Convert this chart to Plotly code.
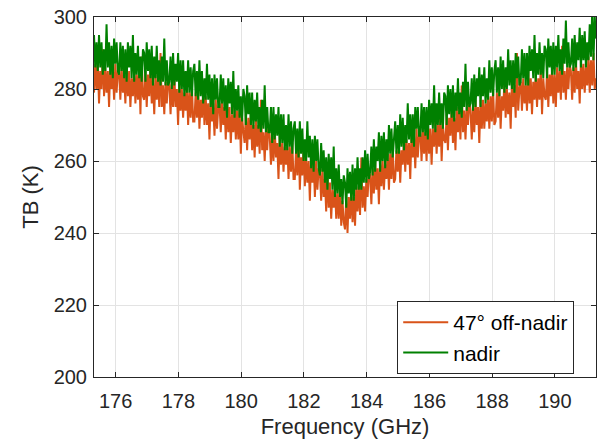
import numpy as np
import plotly.graph_objects as go

# Frequency axis (GHz): 401 channels across the plotted band
f_start, f_end, n_pts = 175.31, 191.31, 401
freq = np.linspace(f_start, f_end, n_pts)

# Brightness temperature (K), nadir (green)
tb_nadir = [
    295, 286, 293, 285, 295, 286, 293, 284, 291, 285, 298, 286, 293, 284, 292, 283, 294, 287, 293, 285,
    284, 293, 285, 292, 283, 291, 282, 293, 286, 292, 283, 295, 282, 290, 284, 292, 283, 289, 282, 291,
    290, 282, 293, 285, 291, 283, 292, 281, 289, 283, 292, 282, 288, 281, 289, 282, 294, 281, 288, 281,
    282, 289, 280, 290, 281, 287, 282, 290, 279, 288, 280, 288, 278, 285, 279, 288, 279, 286, 278, 285,
    287, 278, 285, 277, 288, 278, 285, 276, 283, 277, 287, 277, 284, 275, 283, 273, 284, 277, 283, 275,
    275, 284, 276, 283, 274, 281, 272, 283, 276, 282, 273, 285, 272, 280, 274, 281, 272, 278, 271, 280,
    278, 270, 281, 273, 279, 270, 279, 269, 277, 271, 279, 269, 275, 268, 277, 269, 281, 268, 275, 268,
    268, 275, 265, 275, 266, 273, 267, 275, 264, 273, 265, 273, 263, 270, 263, 273, 264, 271, 262, 269,
    271, 262, 269, 261, 271, 262, 269, 260, 266, 260, 271, 261, 267, 258, 266, 257, 267, 260, 266, 258,
    256, 265, 257, 263, 254, 261, 252, 262, 255, 261, 252, 264, 250, 258, 251, 259, 250, 255, 248, 256,
    254, 247, 258, 251, 257, 249, 259, 249, 258, 252, 261, 252, 258, 252, 261, 254, 263, 254, 262, 255,
    257, 264, 256, 266, 257, 264, 260, 268, 257, 267, 260, 268, 258, 266, 260, 270, 262, 269, 261, 268,
    271, 262, 270, 262, 273, 264, 272, 263, 270, 265, 276, 266, 273, 265, 273, 264, 275, 269, 275, 267,
    267, 276, 268, 275, 267, 275, 266, 277, 270, 276, 269, 281, 268, 276, 270, 279, 270, 276, 269, 279,
    278, 270, 281, 273, 280, 272, 281, 271, 279, 274, 283, 273, 279, 272, 282, 275, 287, 274, 282, 275,
    276, 283, 274, 284, 275, 283, 278, 286, 275, 284, 278, 286, 276, 283, 277, 288, 279, 286, 278, 285,
    288, 279, 286, 278, 289, 280, 288, 279, 286, 280, 291, 281, 288, 280, 288, 279, 290, 283, 289, 281,
    282, 291, 283, 290, 281, 290, 281, 292, 285, 291, 283, 295, 282, 290, 284, 293, 284, 290, 283, 292,
    291, 283, 294, 286, 292, 284, 293, 284, 292, 286, 295, 285, 291, 284, 294, 287, 299, 286, 293, 286,
    287, 294, 285, 295, 286, 293, 288, 297, 286, 295, 288, 296, 286, 293, 288, 298, 289, 302, 288, 300,
    294,
]

# Brightness temperature (K), 47 deg off-nadir (orange)
tb_off = [
    279, 287, 280, 288, 276, 285, 280, 291, 278, 286, 279, 285, 275, 287, 280, 286, 277, 287, 279, 285,
    285, 277, 286, 279, 284, 276, 287, 278, 285, 275, 283, 278, 285, 276, 284, 277, 286, 273, 289, 278,
    277, 285, 275, 284, 278, 286, 276, 282, 273, 284, 277, 283, 275, 290, 275, 281, 273, 282, 276, 283,
    281, 273, 282, 275, 284, 275, 280, 270, 282, 274, 280, 272, 279, 274, 281, 270, 279, 272, 281, 271,
    271, 279, 272, 280, 269, 277, 272, 280, 270, 278, 270, 276, 266, 278, 271, 276, 267, 277, 269, 275,
    276, 268, 277, 270, 275, 266, 277, 268, 275, 265, 273, 268, 275, 266, 274, 266, 275, 262, 272, 267,
    265, 273, 263, 272, 266, 273, 263, 270, 261, 272, 264, 270, 262, 277, 263, 268, 260, 269, 263, 270,
    267, 259, 267, 260, 269, 261, 265, 255, 267, 259, 265, 257, 264, 259, 265, 255, 264, 257, 265, 255,
    255, 263, 256, 268, 252, 261, 256, 264, 253, 261, 254, 260, 249, 261, 254, 260, 250, 260, 252, 258,
    257, 249, 258, 250, 255, 246, 257, 247, 254, 244, 252, 247, 253, 244, 251, 244, 253, 242, 249, 243,
    241, 250, 240, 250, 244, 252, 243, 250, 242, 253, 246, 253, 245, 261, 247, 253, 246, 255, 250, 257,
    256, 248, 258, 251, 260, 252, 258, 248, 260, 253, 260, 252, 259, 255, 262, 252, 262, 255, 264, 254,
    255, 263, 257, 265, 254, 263, 259, 267, 257, 266, 259, 265, 255, 268, 261, 267, 258, 269, 261, 267,
    268, 260, 269, 262, 268, 260, 271, 262, 269, 259, 269, 264, 271, 262, 270, 264, 273, 260, 270, 266,
    265, 273, 263, 272, 267, 275, 265, 272, 263, 275, 268, 274, 266, 281, 268, 274, 266, 275, 270, 277,
    274, 266, 275, 268, 277, 270, 275, 265, 277, 269, 277, 269, 276, 271, 278, 269, 278, 271, 280, 270,
    271, 279, 272, 280, 269, 278, 274, 282, 272, 280, 273, 279, 269, 282, 275, 281, 272, 290, 274, 280,
    282, 274, 283, 276, 281, 274, 285, 276, 283, 273, 282, 277, 284, 275, 283, 277, 286, 273, 283, 278,
    277, 285, 275, 284, 278, 286, 276, 284, 275, 286, 279, 285, 277, 292, 279, 285, 277, 286, 280, 287,
    285, 277, 286, 279, 288, 280, 285, 276, 288, 280, 287, 279, 286, 281, 289, 279, 288, 281, 290, 280,
    283,
]

series_names = ["47° off-nadir", "nadir"]
x_ticks = [176, 178, 180, 182, 184, 186, 188, 190]
y_ticks = [200, 220, 240, 260, 280, 300]

ORANGE = "#D95319"
GREEN = "#008000"
AX = "#262626"
FONT = "Liberation Sans, Arial, Helvetica, sans-serif"

fig = go.Figure()
fig.add_trace(go.Scatter(x=freq, y=tb_off, mode="lines", name=series_names[0],
                         line=dict(color=ORANGE, width=2)))
fig.add_trace(go.Scatter(x=freq, y=tb_nadir, mode="lines", name=series_names[1],
                         line=dict(color=GREEN, width=2)))

axis_common = dict(
    showline=True, linecolor=AX, linewidth=1, mirror="allticks",
    ticks="inside", ticklen=5, tickwidth=1, tickcolor=AX,
    showgrid=True, gridcolor="#e3e3e3", gridwidth=1, zeroline=False,
    tickfont=dict(family=FONT, size=20, color=AX),
)

fig.update_layout(
    width=600, height=442,
    margin=dict(l=94, r=4, t=17, b=65),
    paper_bgcolor="white", plot_bgcolor="white",
    font=dict(family=FONT, color=AX),
    xaxis=dict(range=[f_start, f_end], tickvals=x_ticks, ticklabelstandoff=6,
               title=dict(text="Frequency (GHz)", font=dict(family=FONT, size=22, color=AX), standoff=7),
               **axis_common),
    yaxis=dict(range=[200, 300], tickvals=y_ticks, ticklabelstandoff=2,
               title=dict(text="TB (K)", font=dict(family=FONT, size=22, color=AX), standoff=8),
               **axis_common),
    legend=dict(x=0.604, y=0.211, xanchor="left", yanchor="top",
                bgcolor="white", bordercolor=AX, borderwidth=1,
                font=dict(family=FONT, size=21, color="#000000"),
                itemwidth=45, tracegroupgap=0),
    showlegend=True,
)

fig.write_html("out.html")
